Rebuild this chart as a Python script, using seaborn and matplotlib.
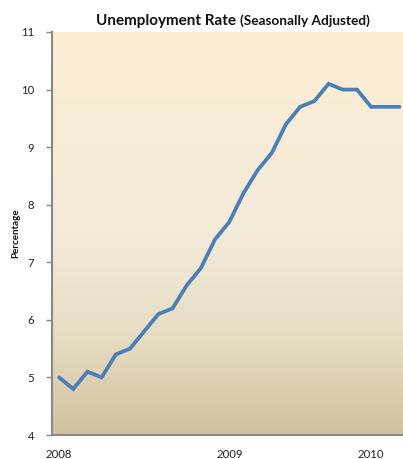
import numpy as np
import pandas as pd
import matplotlib
matplotlib.use("Agg")
import matplotlib.pyplot as plt
from matplotlib.colors import LinearSegmentedColormap
import seaborn as sns

# ---- data ----
months = ["2008-01", "2008-02", "2008-03", "2008-04", "2008-05", "2008-06",
          "2008-07", "2008-08", "2008-09", "2008-10", "2008-11", "2008-12",
          "2009-01", "2009-02", "2009-03", "2009-04", "2009-05",
          "2009-08", "2009-09", "2009-10", "2009-11", "2009-12",
          "2010-01", "2010-02", "2010-03"]
rate = [5.0, 4.8, 5.1, 5.0, 5.4, 5.5, 5.8, 6.1, 6.2, 6.6, 6.9, 7.4,
        7.7, 8.2, 8.6, 8.9, 9.4,
        9.7, 9.8, 10.1, 10.0, 10.0,
        9.7, 9.7, 9.7]
year_labels = ["2008", "2009", "2010"]
y_ticks = [4, 5, 6, 7, 8, 9, 10, 11]

df = pd.DataFrame({"month": months, "rate": rate})
df["pos"] = range(len(df))

sns.set_theme(style="white")
plt.rcParams["font.family"] = ["Lato", "DejaVu Sans"]

fig = plt.figure(figsize=(4.03, 4.59), dpi=100)
ax = fig.add_axes([52 / 403, 1 - 435 / 459, 351 / 403, 403 / 459])

# gradient background (light cream at top, tan at bottom)
cmap = LinearSegmentedColormap.from_list(
    "bg", [(0.0, "#fdeed3"), (0.5, "#f2ebd8"), (0.75, "#e7ddc3"), (1.0, "#d2c29f")])
grad = np.linspace(0, 1, 256).reshape(-1, 1)
ax.imshow(grad, cmap=cmap, aspect="auto", extent=[0, 1, 0, 1], origin="upper",
          transform=ax.transAxes, zorder=0, interpolation="bilinear")

sns.lineplot(data=df, x="pos", y="rate", ax=ax, color="#4a7ebb",
             linewidth=2.7, zorder=3, solid_joinstyle="miter")

ax.set_xlim(-0.5, 24.25)
ax.set_ylim(4, 11)
ax.set_yticks(y_ticks)
ax.set_yticklabels([str(t) for t in y_ticks], fontsize=8.2, color="#222222")

tick_pos = [df.loc[df["month"] == f"{y}-01", "pos"].iloc[0] for y in year_labels]
ax.set_xticks(tick_pos)
ax.set_xticklabels(year_labels, fontsize=8.2, color="#222222")

ax.tick_params(axis="y", which="both", left=True, length=4, width=1,
               color="#888888", pad=9)
ax.tick_params(axis="x", which="both", bottom=False, length=0, pad=10)

for s in ["top", "right"]:
    ax.spines[s].set_visible(False)
for s in ["left", "bottom"]:
    ax.spines[s].set_color("#888888")
    ax.spines[s].set_linewidth(1.5)

ax.set_xlabel("")
ax.set_ylabel("Percentage", fontsize=7, fontweight="bold", color="#111111")
ax.yaxis.set_label_coords((20 - 52) / 351, 0.5)
ax.grid(False)

fig.text(236 / 403, 1 - 25 / 459, "Unemployment Rate", ha="right",
         va="baseline", fontsize=11.0, fontweight="bold", color="#111111")
fig.text(240 / 403, 1 - 25 / 459, "(Seasonally Adjusted)", ha="left",
         va="baseline", fontsize=9.8, fontweight="bold", color="#111111")

fig.savefig("out.png", dpi=100)
